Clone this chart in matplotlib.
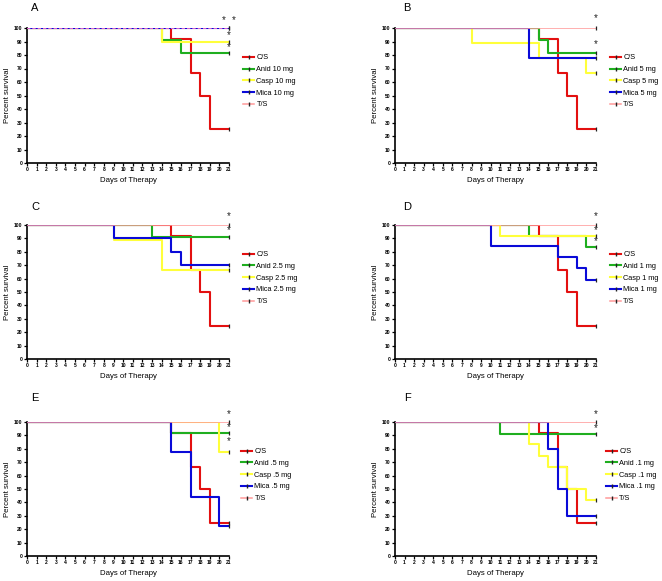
import matplotlib
matplotlib.use("Agg")
import matplotlib.pyplot as plt
from matplotlib.lines import Line2D

plt.rcParams['font.family'] = ['Liberation Sans', 'DejaVu Sans']

# ---- data ----
panel_letters = ["A", "B", "C", "D", "E", "F"]
doses = ["10 mg", "5 mg", "2.5 mg", "1 mg", ".5 mg", ".1 mg"]
series_names = ["C/S", "Anid", "Casp", "Mica", "T/S"]

# control, same in every panel
cs_days = [0, 15, 17, 18, 19, 21]
cs_surv = [100, 91.7, 66.7, 50, 25, 25]
ts_days = [0, 21]
ts_surv = [100, 100]

anid_days = [[0, 14, 16, 21], [0, 15, 16, 21], [0, 13, 21],
             [0, 14, 20, 21], [0, 15, 21], [0, 11, 21]]
anid_surv = [[100, 90.9, 81.8, 81.8], [100, 90.9, 81.8, 81.8], [100, 91, 91],
             [100, 91.7, 83.3, 83.3], [100, 91.7, 91.7], [100, 90.9, 90.9]]

casp_days = [[0, 14, 21], [0, 8, 15, 20, 21], [0, 9, 14, 21],
             [0, 11, 21], [0, 20, 21], [0, 14, 15, 16, 18, 20, 21]]
casp_surv = [[100, 90, 90], [100, 88.9, 77.8, 66.7, 66.7], [100, 88.9, 66.7, 66.7],
             [100, 91.7, 91.7], [100, 77.8, 77.8], [100, 83.3, 75, 66.7, 50, 41.7, 41.7]]

mica_days = [[0, 21], [0, 14, 21], [0, 9, 15, 16, 21],
             [0, 10, 17, 19, 20, 21], [0, 15, 17, 20, 21], [0, 16, 17, 18, 21]]
mica_surv = [[100, 100], [100, 77.8, 77.8], [100, 90, 80, 70, 70],
             [100, 84.5, 76, 68, 59, 59], [100, 77.8, 44.4, 22.2, 22.2], [100, 80, 50, 30, 30]]

# significance asterisks (day, percent)
stars = [[(20.5, 107), (21.5, 107), (21, 96), (21, 87)],
         [(21, 108), (21, 89)],
         [(21, 108), (21, 97.5)],
         [(21, 108), (21, 97), (21, 89)],
         [(21, 107), (21, 97), (21, 87)],
         [(21, 107), (21, 96.5)]]

colors = {"C/S": "#e31010", "Anid": "#1fae1f", "Casp": "#ffff3a",
          "Mica": "#0a0ad8", "T/S": "#ff9a9a"}

W, H = 662, 581
fig = plt.figure(figsize=(W / 100, H / 100), dpi=100)

# axes boxes in pixels: left, top, right, bottom
boxes = [(27, 28, 229, 163), (395, 28, 596, 163),
         (27, 225, 229, 359), (395, 225, 596, 359),
         (27, 422, 229, 556), (395, 422, 596, 556)]
letter_pos = [(35, 8), (407, 8), (35, 207), (407, 207), (35, 398), (407, 398)]
legend_x = [1.07, 1.07, 1.07, 1.07, 1.06, 1.05]

for i in range(6):
    l, t, r, b = boxes[i]
    ax = fig.add_axes([l / W, 1 - b / H, (r - l) / W, (b - t) / H])

    lw = 1.5
    ax.step(cs_days, cs_surv, where='post', color=colors["C/S"], lw=lw, zorder=2)
    ax.step(anid_days[i], anid_surv[i], where='post', color=colors["Anid"], lw=lw, zorder=3)
    ax.step(casp_days[i], casp_surv[i], where='post', color=colors["Casp"], lw=lw, zorder=4)
    ax.step(mica_days[i], mica_surv[i], where='post', color=colors["Mica"], lw=lw, zorder=5)
    if i == 0:
        ax.step(ts_days, ts_surv, where='post', color="#ff77cc", lw=1.2,
                ls=(0, (2, 1.2)), zorder=6)
    else:
        ax.step(ts_days, ts_surv, where='post', color=colors["T/S"], lw=1.1, zorder=6)

    # censor ticks at the end of each curve
    for s in [cs_surv, anid_surv[i], casp_surv[i], mica_surv[i], ts_surv]:
        ax.plot(21, s[-1], marker='|', color='#222222', ms=3, mew=0.9,
                clip_on=False, zorder=7)

    for (sx, sy) in stars[i]:
        ax.text(sx, sy - 1, "*", ha='center', va='center', fontsize=7,
                color='#222222', clip_on=False)

    ax.set_xlim(0, 21)
    ax.set_ylim(0, 100)
    ax.set_xticks(range(0, 22))
    ax.set_yticks(range(0, 101, 10))
    ax.tick_params(labelsize=3.6, length=2, width=0.9, pad=1.2)
    for lab in ax.get_xticklabels() + ax.get_yticklabels():
        lab.set_fontweight('bold')
    ax.spines['top'].set_visible(False)
    ax.spines['right'].set_visible(False)
    ax.spines['left'].set_linewidth(1.2)
    ax.spines['bottom'].set_linewidth(1.2)
    ax.set_xlabel("Days of Therapy", fontsize=5.6, labelpad=3)
    ax.set_ylabel("Percent survival", fontsize=5.6, labelpad=2)

    px, py = letter_pos[i]
    fig.text(px / W, 1 - py / H, panel_letters[i], fontsize=8,
             ha='center', va='center')

    handles = []
    labels = []
    for n in series_names:
        if n in ("C/S", "T/S"):
            labels.append(n)
        else:
            labels.append(n + " " + doses[i])
        handles.append(Line2D([0], [0], color=colors[n], lw=1.5 if n != "T/S" else 1.1,
                              marker='|', ms=3, mec='#222222'))
    ax.legend(handles, labels, loc='upper left', bbox_to_anchor=(legend_x[i], 0.805),
              frameon=False, fontsize=5.3, handlelength=1.5, handletextpad=0.3,
              labelspacing=0.62, borderpad=0, borderaxespad=0)

fig.savefig("out.png", dpi=100)
